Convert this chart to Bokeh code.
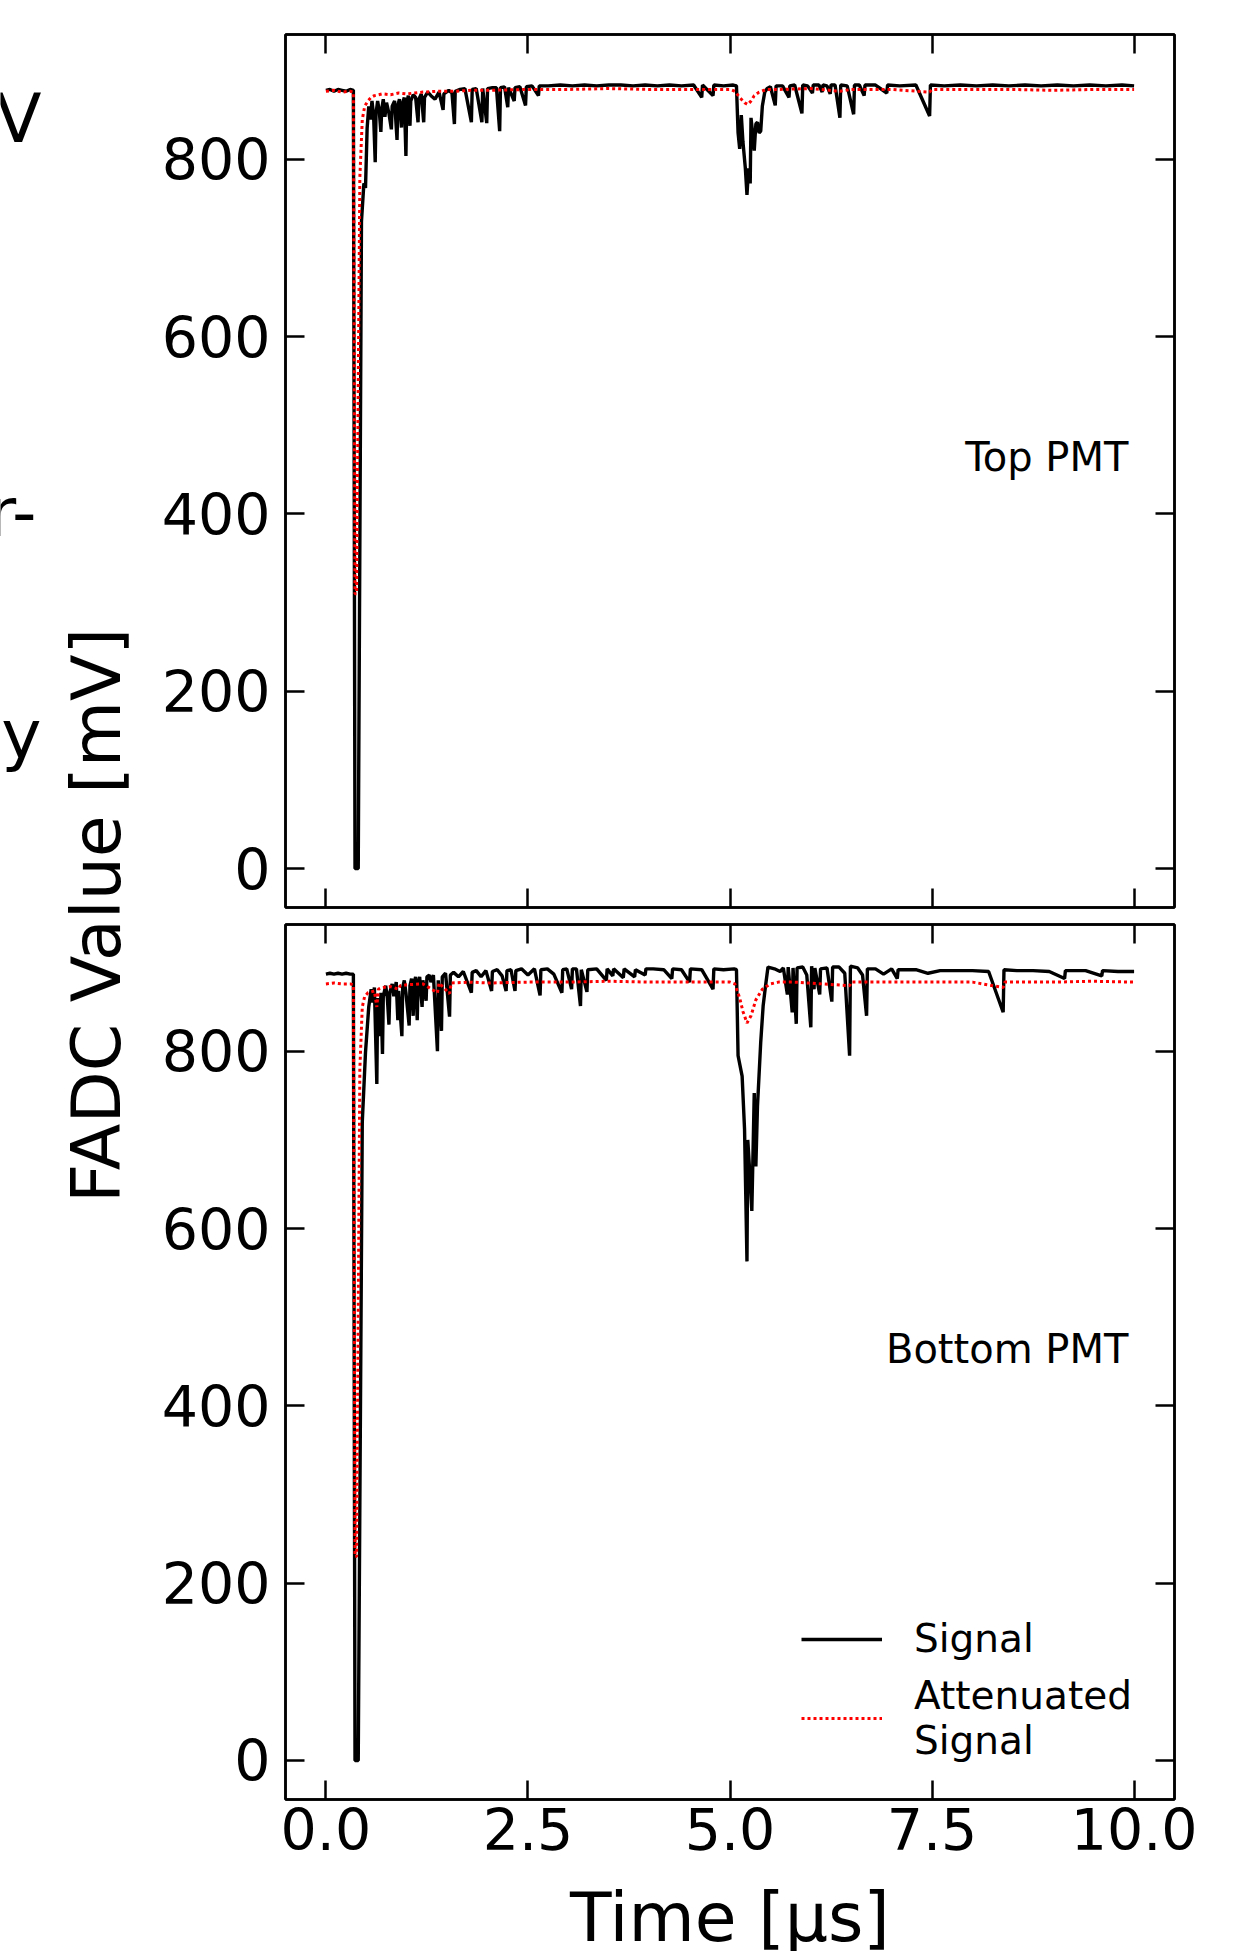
from bokeh.plotting import figure
from bokeh.models import (Range1d, LinearAxis, FixedTicker, Label, Legend,
                          LegendItem, PrintfTickFormatter, CustomLabelingPolicy)
from bokeh.layouts import row, column
from bokeh.embed import file_html
from bokeh.resources import INLINE

FONT = "DejaVu Sans"

# ---------------- data ----------------
x_ticks = [0, 2.5, 5, 7.5, 10]
y_ticks = [0, 200, 400, 600, 800]
x_range = (-0.5, 10.5)
top_y_range = (-44, 941)
bottom_y_range = (-44, 943)

panel_names = ["Top PMT", "Bottom PMT"]
legend_labels = ["Signal", "Attenuated\nSignal"]
x_label = "Time [\u03bcs]"
y_label = "FADC Value [mV]"
cut_texts = ["V", "r-", "y"]

# (time [us], FADC value [mV])
top_signal = [
    (0.00, 878), (0.05, 879), (0.10, 877), (0.15, 879), (0.20, 878), (0.25, 877), (0.30, 879),
    (0.34, 878), (0.36, 0), (0.40, 0), (0.44, 730), (0.47, 773), (0.49, 768), (0.51, 835),
    (0.53, 860), (0.55, 845), (0.57, 866), (0.59, 850), (0.61, 797), (0.62, 852), (0.64, 866),
    (0.66, 855), (0.68, 831), (0.69, 856), (0.71, 868), (0.73, 848), (0.75, 864), (0.78, 852),
    (0.81, 834), (0.82, 860), (0.85, 866), (0.88, 822), (0.89, 861), (0.91, 868), (0.935, 836),
    (0.945, 862), (0.97, 870), (0.99, 804), (1.00, 864), (1.02, 872), (1.04, 838), (1.05, 866),
    (1.08, 873), (1.11, 870), (1.14, 842), (1.15, 868), (1.18, 874), (1.21, 842), (1.22, 870),
    (1.26, 876), (1.30, 872), (1.35, 868), (1.40, 876), (1.45, 856), (1.46, 874), (1.52, 878),
    (1.56, 875), (1.59, 840), (1.60, 877), (1.66, 879), (1.72, 880), (1.80, 842), (1.81, 879),
    (1.86, 880), (1.93, 842), (1.94, 880), (1.99, 841), (2.00, 880), (2.06, 881), (2.11, 881),
    (2.15, 832), (2.16, 881), (2.21, 882), (2.25, 859), (2.26, 881), (2.33, 866), (2.34, 881),
    (2.40, 882), (2.47, 861), (2.48, 882), (2.55, 883), (2.63, 872), (2.64, 883), (2.75, 883),
    (2.90, 884), (3.05, 883), (3.20, 884), (3.35, 883), (3.50, 884), (3.65, 884), (3.80, 883),
    (3.95, 884), (4.10, 883), (4.25, 884), (4.40, 883), (4.55, 884), (4.65, 870), (4.66, 884),
    (4.79, 872), (4.80, 884), (4.92, 883), (5.04, 884), (5.08, 883), (5.10, 830), (5.12, 812),
    (5.14, 850), (5.16, 820), (5.19, 790), (5.21, 760), (5.23, 790), (5.25, 773), (5.26, 847),
    (5.28, 830), (5.30, 810), (5.32, 840), (5.34, 842), (5.36, 830), (5.38, 832), (5.40, 860),
    (5.43, 876), (5.46, 880), (5.50, 882), (5.56, 861), (5.57, 883), (5.65, 883), (5.73, 870),
    (5.74, 883), (5.80, 884), (5.89, 852), (5.90, 884), (5.96, 883), (6.02, 875), (6.03, 884),
    (6.10, 884), (6.14, 876), (6.15, 884), (6.20, 883), (6.24, 874), (6.25, 884), (6.30, 884),
    (6.36, 847), (6.37, 884), (6.45, 883), (6.53, 851), (6.54, 884), (6.60, 884), (6.66, 872),
    (6.67, 884), (6.80, 884), (6.94, 875), (6.95, 884), (7.10, 883), (7.30, 884), (7.47, 849),
    (7.48, 884), (7.65, 883), (7.85, 884), (8.05, 883), (8.25, 884), (8.45, 883), (8.65, 884),
    (8.85, 883), (9.05, 884), (9.25, 883), (9.45, 884), (9.65, 883), (9.85, 884), (10.00, 883),
]

top_attenuated = [
    (0.00, 877), (0.10, 878), (0.20, 876), (0.30, 877), (0.34, 876), (0.36, 310), (0.38, 310),
    (0.42, 780), (0.45, 845), (0.48, 860), (0.52, 866), (0.56, 870), (0.60, 872), (0.70, 874),
    (0.80, 873), (0.90, 875), (1.00, 874), (1.20, 876), (1.40, 877), (1.60, 877), (1.80, 878),
    (2.00, 878), (2.50, 879), (3.00, 879), (3.50, 880), (4.00, 879), (4.50, 879), (5.00, 879),
    (5.06, 877), (5.12, 870), (5.18, 864), (5.22, 862), (5.26, 866), (5.30, 872), (5.36, 876),
    (5.45, 879), (5.60, 879), (6.00, 880), (6.36, 877), (6.50, 879), (7.00, 879), (7.47, 876),
    (7.50, 879), (8.00, 879), (8.50, 879), (9.00, 878), (9.50, 879), (10.00, 879),
]

bottom_signal = [
    (0.00, 887), (0.05, 888), (0.10, 887), (0.15, 888), (0.20, 887), (0.25, 888), (0.30, 887),
    (0.34, 887), (0.36, 0), (0.40, 0), (0.45, 720), (0.49, 799), (0.53, 850), (0.56, 870),
    (0.58, 855), (0.60, 872), (0.63, 763), (0.64, 860), (0.67, 817), (0.68, 866), (0.70, 797),
    (0.71, 862), (0.74, 874), (0.76, 860), (0.78, 830), (0.79, 866), (0.82, 876), (0.84, 862),
    (0.87, 878), (0.89, 835), (0.90, 868), (0.94, 817), (0.95, 872), (0.97, 880), (0.99, 866),
    (1.03, 829), (1.04, 874), (1.06, 882), (1.08, 840), (1.09, 876), (1.11, 884), (1.13, 835),
    (1.14, 876), (1.16, 884), (1.19, 850), (1.20, 880), (1.24, 857), (1.25, 884), (1.28, 886),
    (1.30, 878), (1.33, 886), (1.38, 800), (1.39, 880), (1.43, 823), (1.44, 884), (1.48, 888),
    (1.53, 839), (1.54, 886), (1.58, 889), (1.64, 884), (1.70, 890), (1.80, 866), (1.81, 889),
    (1.86, 891), (1.92, 884), (1.98, 891), (2.05, 868), (2.06, 890), (2.12, 892), (2.18, 885),
    (2.23, 868), (2.24, 891), (2.29, 892), (2.34, 868), (2.35, 891), (2.42, 893), (2.50, 886),
    (2.58, 893), (2.65, 863), (2.66, 892), (2.74, 893), (2.82, 887), (2.92, 866), (2.93, 892),
    (2.98, 893), (3.04, 870), (3.05, 893), (3.10, 893), (3.15, 851), (3.16, 892), (3.23, 867),
    (3.24, 892), (3.35, 893), (3.47, 880), (3.48, 893), (3.55, 885), (3.56, 893), (3.68, 883),
    (3.69, 893), (3.82, 884), (3.83, 892), (3.95, 886), (3.96, 893), (4.05, 893), (4.18, 892),
    (4.28, 882), (4.29, 893), (4.40, 892), (4.50, 878), (4.51, 893), (4.65, 892), (4.79, 870),
    (4.80, 893), (4.92, 892), (5.05, 893), (5.08, 892), (5.10, 795), (5.15, 772), (5.18, 712),
    (5.21, 563), (5.22, 700), (5.24, 670), (5.27, 620), (5.30, 753), (5.32, 670), (5.34, 738),
    (5.38, 810), (5.41, 851), (5.44, 874), (5.47, 895), (5.55, 893), (5.62, 890), (5.66, 894),
    (5.71, 864), (5.72, 895), (5.77, 844), (5.78, 894), (5.82, 831), (5.83, 894), (5.90, 895),
    (5.95, 886), (6.00, 827), (6.01, 896), (6.04, 870), (6.05, 894), (6.11, 864), (6.12, 893),
    (6.20, 894), (6.26, 856), (6.27, 895), (6.35, 895), (6.42, 888), (6.48, 795), (6.49, 896),
    (6.58, 894), (6.64, 886), (6.69, 840), (6.70, 893), (6.80, 893), (6.90, 887), (7.00, 893),
    (7.07, 882), (7.08, 892), (7.30, 892), (7.45, 888), (7.60, 891), (7.80, 891), (8.00, 891),
    (8.20, 890), (8.38, 844), (8.39, 892), (8.55, 891), (8.75, 891), (8.95, 890), (9.14, 882),
    (9.15, 891), (9.40, 891), (9.60, 885), (9.61, 891), (9.80, 890), (10.00, 890),
]

bottom_attenuated = [
    (0.00, 876), (0.10, 877), (0.20, 876), (0.30, 876), (0.34, 875), (0.36, 230), (0.38, 230),
    (0.42, 780), (0.45, 850), (0.48, 862), (0.52, 866), (0.60, 868), (0.63, 850), (0.65, 870),
    (0.70, 872), (0.80, 873), (0.90, 870), (0.92, 874), (1.00, 875), (1.20, 876), (1.38, 866),
    (1.40, 877), (1.53, 865), (1.55, 877), (1.80, 878), (2.00, 877), (2.50, 878), (3.00, 878),
    (3.50, 879), (4.00, 878), (4.50, 878), (5.00, 878), (5.06, 876), (5.12, 860), (5.16, 845),
    (5.21, 832), (5.26, 840), (5.32, 858), (5.40, 870), (5.50, 876), (5.60, 878), (5.80, 878),
    (6.48, 874), (6.50, 878), (7.00, 878), (7.50, 878), (8.00, 878), (8.38, 872), (8.40, 878),
    (9.00, 878), (9.50, 879), (10.00, 878),
]

# ---------------- layout / style ----------------
PAGE_H = 1951
LEFT_W = 143
PANEL_W = 1103
TOP_H = 915
BOT_H = 960
STRIP_H = PAGE_H - TOP_H - BOT_H
BORDER_L = 142
BORDER_R = 72
SIG_W = 3.4
ATT_W = 3.0

HIDE_LABELS = CustomLabelingPolicy(code="""
for (const i of indices) { indices.unset(i) }
return indices
""")


def split(pairs):
    return [a for a, _ in pairs], [b for _, b in pairs]


def style_axis(ax, ticks, show, standoff=0):
    ax.ticker = FixedTicker(ticks=ticks)
    ax.major_tick_in = 19
    ax.major_tick_out = 0
    ax.minor_tick_in = 0
    ax.minor_tick_out = 0
    ax.major_tick_line_width = 2.5
    ax.major_tick_line_color = "black"
    ax.axis_line_width = 2.5
    ax.axis_line_color = "black"
    ax.major_label_text_font = FONT
    ax.major_label_text_color = "black"
    if show:
        ax.major_label_text_font_size = "57px"
        ax.major_label_standoff = standoff
    else:
        ax.major_label_text_font_size = "1px"
        ax.major_label_standoff = 0
        ax.major_label_policy = HIDE_LABELS


def make_panel(height, y_rng, b_top, b_bottom, sig, att, name, show_x):
    p = figure(width=PANEL_W, height=height,
               x_range=Range1d(*x_range), y_range=Range1d(*y_rng),
               x_axis_type=None, y_axis_type=None,
               output_backend="svg", toolbar_location=None,
               min_border_left=BORDER_L, min_border_right=BORDER_R,
               min_border_top=b_top, min_border_bottom=b_bottom)
    p.grid.visible = False
    p.outline_line_color = "black"
    p.outline_line_width = 2.5

    xb = LinearAxis(formatter=PrintfTickFormatter(format="%.1f"))
    style_axis(xb, x_ticks, show_x, 8)
    p.add_layout(xb, "below")
    xa = LinearAxis()
    style_axis(xa, x_ticks, False)
    p.add_layout(xa, "above")
    yl = LinearAxis()
    style_axis(yl, y_ticks, True, 15)
    p.add_layout(yl, "left")
    yr = LinearAxis()
    style_axis(yr, y_ticks, False)
    p.add_layout(yr, "right")

    st, sv = split(sig)
    at, av = split(att)
    r1 = p.line(st, sv, line_color="black", line_width=SIG_W)
    r2 = p.line(at, av, line_color="red", line_width=ATT_W, line_dash="3 3")
    p.add_layout(Label(x=9.93, y=464, text=name, text_align="right",
                       text_baseline="alphabetic", text_font=FONT,
                       text_font_size="40px", text_color="black"))
    return p, r1, r2


top, _, _ = make_panel(TOP_H, top_y_range, 34, 8, top_signal, top_attenuated,
                       panel_names[0], False)
bot, rs, ra = make_panel(BOT_H, bottom_y_range, 9, 76, bottom_signal,
                         bottom_attenuated, panel_names[1], True)

legend = Legend(items=[LegendItem(label=legend_labels[0], renderers=[rs]),
                       LegendItem(label=legend_labels[1], renderers=[ra])],
                location=(516, 36), padding=0, margin=0, spacing=12,
                glyph_width=81, glyph_height=40, label_standoff=32,
                label_text_font=FONT, label_text_font_size="39px",
                label_text_color="black",
                border_line_color=None, background_fill_alpha=0)
bot.add_layout(legend)

# strip under the bottom panel holding the x title
strip = figure(width=PANEL_W, height=STRIP_H, x_range=Range1d(*x_range),
               y_range=Range1d(0, STRIP_H), x_axis_type=None, y_axis_type=None,
               output_backend="svg", toolbar_location=None,
               min_border_left=BORDER_L, min_border_right=BORDER_R,
               min_border_top=0, min_border_bottom=0)
strip.grid.visible = False
strip.outline_line_color = None
strip.add_layout(Label(x=5.0, y=34, text=x_label, text_align="center",
                       text_baseline="alphabetic", text_font=FONT,
                       text_font_size="68px", text_color="black"))

# left strip with the shared y title and cut-off texts of a neighbouring panel
left = figure(width=LEFT_W, height=PAGE_H, x_range=Range1d(0, LEFT_W),
              y_range=Range1d(0, PAGE_H), x_axis_type=None, y_axis_type=None,
              output_backend="svg", toolbar_location=None, min_border=0)
left.grid.visible = False
left.outline_line_color = None
left.add_layout(Label(x=96, y=PAGE_H - 915, text=y_label, angle=1.5707963,
                      text_align="center", text_baseline="alphabetic",
                      text_font=FONT, text_font_size="68px", text_color="black"))
for txt, xx, yy in zip(cut_texts, [41, 36, 41], [1833, 1439, 1217]):
    left.add_layout(Label(x=xx, y=yy, text=txt, text_align="right",
                          text_baseline="alphabetic", text_font=FONT,
                          text_font_size="68px", text_color="black"))

layout = row(left, column(top, bot, strip))
open("out.html", "w").write(file_html(layout, INLINE))
